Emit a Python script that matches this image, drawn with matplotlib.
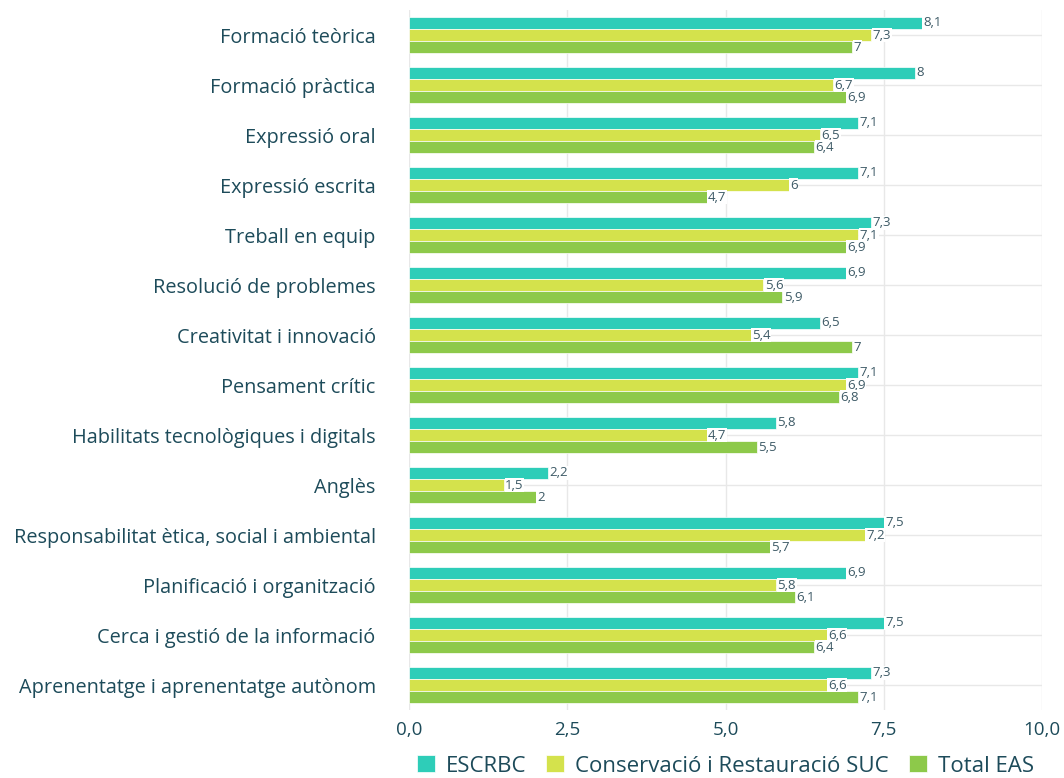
import matplotlib
matplotlib.use('Agg')
import matplotlib.pyplot as plt
import numpy as np

categories = [
    "Formació teòrica", "Formació pràctica", "Expressió oral", "Expressió escrita",
    "Treball en equip", "Resolució de problemes", "Creativitat i innovació",
    "Pensament crític", "Habilitats tecnològiques i digitals", "Anglès",
    "Responsabilitat ètica, social i ambiental", "Planificació i organització",
    "Cerca i gestió de la informació", "Aprenentatge i aprenentatge autònom",
]
escrbc = [8.1, 8, 7.1, 7.1, 7.3, 6.9, 6.5, 7.1, 5.8, 2.2, 7.5, 6.9, 7.5, 7.3]
suc = [7.3, 6.7, 6.5, 6, 7.1, 5.6, 5.4, 6.9, 4.7, 1.5, 7.2, 5.8, 6.6, 6.6]
total = [7, 6.9, 6.4, 4.7, 6.9, 5.9, 7, 6.8, 5.5, 2, 5.7, 6.1, 6.4, 7.1]
series_names = ["ESCRBC", "Conservació i Restauració SUC", "Total EAS"]
colors = ["#2ecdb8", "#d4e24c", "#8dc94a"]
xticks = [0, 2.5, 5, 7.5, 10]

text_col = "#1d4b5a"
plt.rcParams['font.family'] = ['Open Sans', 'DejaVu Sans']

fig = plt.figure(figsize=(10.64, 7.78), dpi=100)
ax = fig.add_axes([409 / 1064, 1 - 710 / 778, (1042 - 409) / 1064, 700 / 778])

y = np.arange(len(categories))
h = 0.245
for i, (vals, name, col) in enumerate(zip([escrbc, suc, total], series_names, colors)):
    pos = y + (i - 1) * h
    ax.barh(pos, vals, height=h, color=col, label=name, zorder=2,
            edgecolor='white', linewidth=0.5)
    for p, v in zip(pos, vals):
        txt = f"{v:g}".replace('.', ',')
        ax.text(v + 0.02, p, txt, va='center', ha='left', fontsize=9.5,
                color="#3d5a66", zorder=3,
                bbox=dict(boxstyle='square,pad=0.05', fc='white', ec='none'))

ax.set_ylim(len(categories) - 0.5, -0.5)
ax.set_xlim(0, 10)
ax.set_yticks(y)
ax.set_yticklabels(categories, fontsize=14.3, color=text_col)
ax.set_xticks(xticks)
ax.set_xticklabels([f"{t:.1f}".replace('.', ',') for t in xticks], fontsize=13.5,
                   color=text_col)
ax.tick_params(axis='y', length=0, pad=24)
ax.tick_params(axis='x', length=0, pad=8)
ax.grid(True, color='#e8e8e8', linewidth=1, zorder=0)
ax.set_axisbelow(True)
for s in ax.spines.values():
    s.set_visible(False)

ax.legend(loc='center', bbox_to_anchor=(0.5, -0.08), ncol=3, frameon=False,
          fontsize=16, labelcolor=text_col, handlelength=0.8, handleheight=0.8,
          handletextpad=0.5, columnspacing=0.9)

fig.savefig('out.png', dpi=100)
